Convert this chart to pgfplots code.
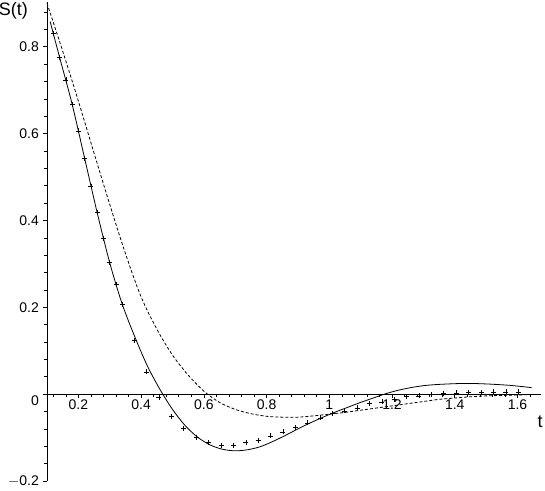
\documentclass[border=0pt]{standalone}
\usepackage{fontspec}
\setmainfont{Liberation Sans}
\usepackage{pgfplots}
\pgfplotsset{compat=1.18}

% solid curve
\pgfplotstableread{
t S
0.11 0.858
0.14 0.776
0.18 0.668
0.22 0.543
0.26 0.418
0.30 0.3025
0.34 0.207
0.38 0.132
0.42 0.065
0.46 0.011
0.50 -0.035
0.54 -0.072
0.58 -0.099
0.62 -0.117
0.66 -0.127
0.70 -0.1305
0.74 -0.128
0.78 -0.121
0.82 -0.109
0.86 -0.095
0.90 -0.080
0.94 -0.066
0.98 -0.053
1.02 -0.041
1.06 -0.030
1.10 -0.019
1.14 -0.009
1.18 0.001
1.22 0.009
1.26 0.015
1.30 0.0195
1.34 0.022
1.38 0.0235
1.42 0.0245
1.46 0.0245
1.50 0.0235
1.54 0.022
1.58 0.020
1.62 0.017
1.645 0.015
}\solid

% dashed curve
\pgfplotstableread{
t S
0.10 0.900
0.15 0.790
0.20 0.675
0.25 0.555
0.30 0.437
0.35 0.324
0.40 0.224
0.45 0.150
0.50 0.090
0.55 0.044
0.60 0.007
0.65 -0.019
0.70 -0.035
0.75 -0.045
0.80 -0.051
0.85 -0.053
0.90 -0.053
0.95 -0.050
1.00 -0.046
1.05 -0.042
1.10 -0.037
1.15 -0.032
1.20 -0.027
1.25 -0.022
1.30 -0.017
1.35 -0.012
1.40 -0.009
1.45 -0.006
1.50 -0.004
1.55 -0.003
1.60 -0.002
1.645 -0.001
}\dashed

% data points
\pgfplotstableread{
t S
0.12 0.831
0.14 0.776
0.16 0.7235
0.18 0.668
0.20 0.606
0.22 0.543
0.24 0.479
0.26 0.418
0.28 0.359
0.30 0.3025
0.32 0.253
0.34 0.207
0.378 0.123
0.417 0.051
0.457 -0.0076
0.497 -0.0507
0.536 -0.079
0.576 -0.0998
0.615 -0.112
0.655 -0.1175
0.694 -0.1175
0.734 -0.112
0.773 -0.107
0.813 -0.096
0.852 -0.087
0.892 -0.077
0.931 -0.066
0.971 -0.0546
1.010 -0.0445
1.049 -0.0384
1.089 -0.0315
1.128 -0.0215
1.168 -0.0177
1.207 -0.0122
1.247 -0.006
1.286 -0.004
1.326 -0.0007
1.365 0.0016
1.405 0.003
1.444 0.004
1.484 0.004
1.523 0.005
1.563 0.005
1.602 0.005
}\points

\begin{document}
\begin{tikzpicture}
\begin{axis}[
  scale only axis,
  width=494pt, height=479pt,
  xmin=0.1, xmax=1.675,
  ymin=-0.2, ymax=0.903,
  axis x line*=middle,
  axis y line*=left,
  hide obscured x ticks=false,
  hide obscured y ticks=false,
  tick align=outside,
  major tick length=3.5pt,
  minor tick length=2.5pt,
  tick style={black, line width=0.6pt},
  axis line style={black, line width=0.8pt},
  xtick={0.2,0.4,...,1.6},
  xticklabels={0.2,0.4,0.6,0.8,1,1.2,1.4,1.6},
  minor xtick={0.12,0.16,...,1.66},
  ytick={-0.2,0.2,0.4,0.6,0.8},
  yticklabels={$-$0.2,0.2,0.4,0.6,0.8},
  extra y ticks={0},
  extra y tick labels={0},
  extra y tick style={yticklabel style={yshift=-7pt}},
  minor ytick={-0.2,-0.16,...,0.89},
  tick label style={font=\fontsize{14}{16}\selectfont, inner sep=1pt},
  yticklabel style={xshift=-3.5pt},
  xticklabel style={yshift=-1pt},
  /pgf/number format/assume math mode=true,
  xlabel={t},
  xlabel style={font=\fontsize{18}{20}\selectfont, inner sep=0pt, at={(rel axis cs:1,0.1813)}, anchor=north, yshift=-22pt, xshift=-1pt},
  ylabel={S(t)},
  ylabel style={font=\fontsize{18}{20}\selectfont, inner sep=0pt, rotate=-90, at={(rel axis cs:0,1)}, anchor=north east, xshift=-19pt, yshift=0pt},
  clip=false,
]
\addplot[black, line width=0.8pt, smooth] table[x=t, y=S] {\solid};
\addplot[black, line width=0.8pt, smooth, dash pattern=on 3pt off 2pt] table[x=t, y=S] {\dashed};
\addplot[only marks, mark=+, mark size=2.5pt, mark options={black, line width=0.6pt}] table[x=t, y=S] {\points};
\end{axis}
\pgfresetboundingbox
\path ([xshift=-47pt,yshift=-10pt]current axis.south west) rectangle ([xshift=4pt,yshift=2pt]current axis.north east);
\end{tikzpicture}
\end{document}
